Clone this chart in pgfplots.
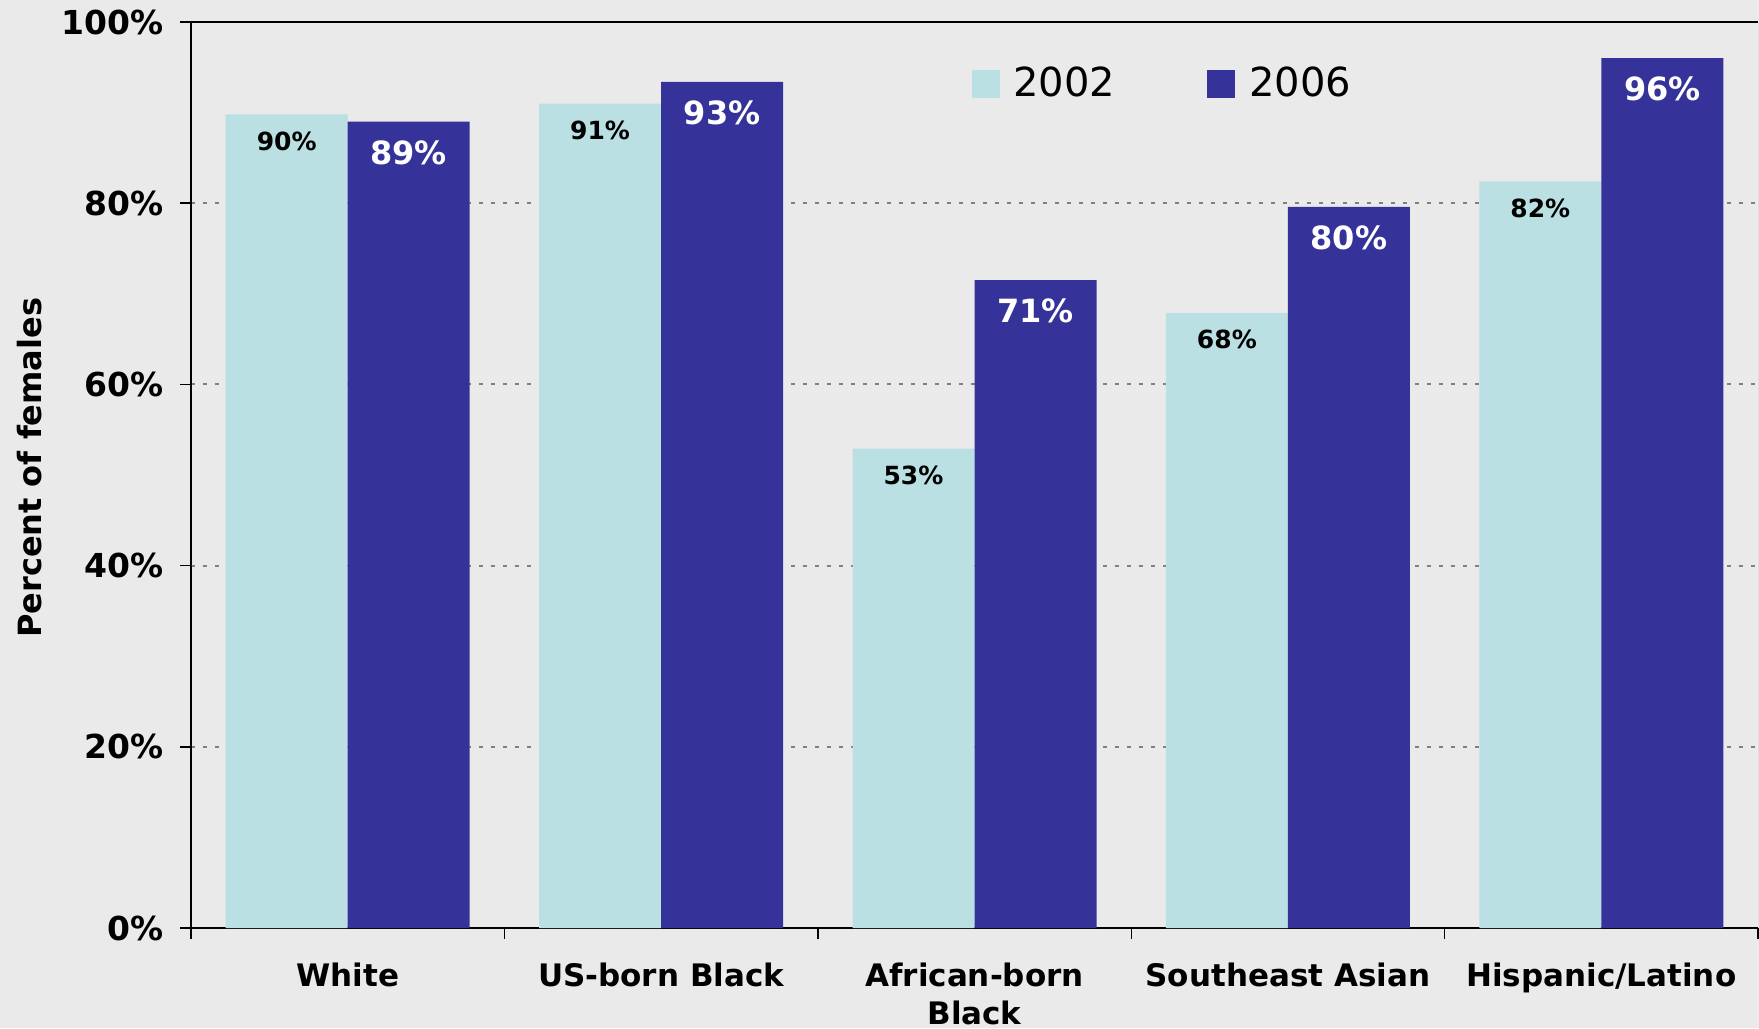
\documentclass[border=0pt]{standalone}
\usepackage{pgfplots}
\pgfplotsset{compat=1.18}
\usepackage{fontspec}
\setmainfont{DejaVu Sans}
\definecolor{bgc}{RGB}{234,234,234}
\definecolor{c2002}{RGB}{186,224,227}
\definecolor{c2006}{RGB}{53,51,153}

\begin{document}
\begin{tikzpicture}
\fill[bgc] (-95.5pt,-50pt) rectangle (784pt,464pt);
\useasboundingbox (-95.5pt,-50pt) rectangle (784pt,464pt);
\begin{axis}[
    scale only axis,
    width=783.5pt, height=453pt,
    ybar=0pt, bar width=61pt,
    xmin=-0.5, xmax=4.5, ymin=0, ymax=100,
    axis background/.style={fill=bgc},
    axis x line*=bottom, axis y line*=left,
    axis line style={black, line width=0.8pt},
    tick align=outside,
    major tick length=5.5pt,
    tick style={black, line width=0.7pt},
    xtick={-0.5,0.5,...,4.5}, xticklabels={,,,,,},
    extra x ticks={0,1,2,3,4},
    extra x tick labels={White, US-born Black, {African-born\\Black}, Southeast Asian, Hispanic/Latino},
    extra x tick style={major tick length=0pt},
    xticklabel style={font=\fontsize{15.5}{19}\selectfont\bfseries, align=center, anchor=north, yshift=-14pt},
    ytick={0,20,40,60,80,100},
    yticklabels={0\%,20\%,40\%,60\%,80\%,100\%},
    yticklabel style={font=\fontsize{16.5}{19}\selectfont\bfseries, anchor=east, xshift=-4.5pt},
    ymajorgrids,
    major grid style={gray, line width=1pt, dash pattern=on 2pt off 4pt},
    ylabel={Percent of females},
    every axis y label/.style={at={(axis description cs:-0.1027,0.508)}, rotate=90, anchor=center, font=\fontsize{16}{19}\selectfont\bfseries},
    legend columns=2,
    legend style={at={(rel axis cs:0.494,0.932)}, anchor=west, draw=none, fill=none,
        font=\fontsize{20}{24}\selectfont,
        /tikz/every odd column/.append style={column sep=5pt},
        /tikz/every even column/.append style={column sep=44pt}},
    legend image code/.code={\fill[#1] (0pt,-7pt) rectangle (14pt,7pt);},
    point meta=explicit symbolic,
]
\addplot[fill=c2002, draw=none,
    nodes near coords={\pgfplotspointmeta\%},
    every node near coord/.append style={anchor=north, yshift=-8.6pt, inner sep=0pt, text=black, font=\fontsize{12.5}{15}\selectfont\bfseries}]
    coordinates {(0,89.8) [90] (1,91.0) [91] (2,52.9) [53] (3,67.9) [68] (4,82.4) [82]};
\addplot[fill=c2006, draw=none,
    nodes near coords={\pgfplotspointmeta\%},
    every node near coord/.append style={anchor=north, yshift=-9.3pt, inner sep=0pt, text=white, font=\fontsize{16}{19}\selectfont\bfseries}]
    coordinates {(0,89.0) [89] (1,93.4) [93] (2,71.5) [71] (3,79.6) [80] (4,96.0) [96]};
\legend{2002,2006}
\draw[black, line width=0.8pt] (rel axis cs:0,1) -- (rel axis cs:1,1);
\draw[gray!80, line width=0.5pt] (rel axis cs:1,0) -- (rel axis cs:1,1);
\end{axis}
\end{tikzpicture}
\end{document}
